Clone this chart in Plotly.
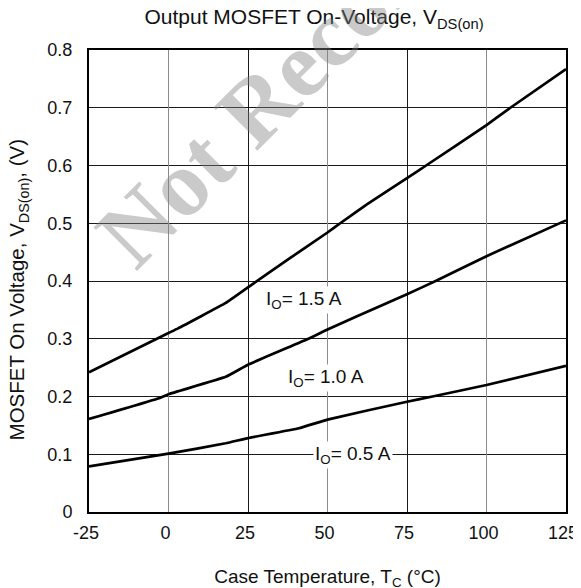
import plotly.graph_objects as go

# case temperature (°C) and V_DS(on) (V)
temp_15a = [-25, 0, 3, 18, 25, 37.5, 50, 54, 62.5, 75, 81, 100, 107.5, 125]
vds_15a = [0.242, 0.310, 0.318, 0.362, 0.389, 0.437, 0.484, 0.500, 0.533, 0.578, 0.600, 0.670, 0.700, 0.767]

temp_10a = [-25, -3, 0, 18, 25, 44, 50, 67.5, 75, 84, 100, 125]
vds_10a = [0.161, 0.197, 0.204, 0.234, 0.255, 0.300, 0.316, 0.359, 0.377, 0.400, 0.443, 0.505]

temp_05a = [-25, 0, 18, 25, 41, 50, 75, 83, 100, 125]
vds_05a = [0.079, 0.101, 0.119, 0.128, 0.145, 0.160, 0.191, 0.200, 0.220, 0.253]

curve_labels = ["I<sub>O</sub>= 1.5 A", "I<sub>O</sub>= 1.0 A", "I<sub>O</sub>= 0.5 A"]
label_x = [42.6, 49.4, 57.9]
label_y = [0.367, 0.232, 0.099]

x_ticks = [-25, 0, 25, 50, 75, 100, 125]
x_grey_ticks = [0, 50, 100]
y_ticks = [0, 0.1, 0.2, 0.3, 0.4, 0.5, 0.6, 0.7, 0.8]
y_ticktext = ["0", "0.1", "0.2", "0.3", "0.4", "0.5", "0.6", "0.7", "0.8"]

FONT = "Liberation Sans, Arial, sans-serif"

fig = go.Figure()
for xs, ys in [(temp_15a, vds_15a), (temp_10a, vds_10a), (temp_05a, vds_05a)]:
    fig.add_trace(go.Scatter(
        x=xs, y=ys, mode="lines", xaxis="x2", yaxis="y",
        line=dict(color="black", width=2.7, shape="spline", smoothing=0.3),
        showlegend=False, hoverinfo="skip",
    ))

for text, lx, ly in zip(curve_labels, label_x, label_y):
    fig.add_annotation(
        x=lx, y=ly, xref="x", yref="y", text=text, showarrow=False,
        font=dict(family=FONT, size=19, color="#111"),
        bgcolor="white", borderpad=1,
    )

# y axis title as an annotation so it can sit close to the left edge
fig.add_annotation(
    x=-0.148, y=0.4805, xref="paper", yref="paper",
    xanchor="center", yanchor="middle", textangle=-90, showarrow=False,
    text="MOSFET On Voltage, V<sub>DS(on)</sub>, (V)",
    font=dict(family=FONT, size=20.5, color="#111"),
)

# faded watermark
fig.add_annotation(
    x=0.6176, y=1.1537, xref="paper", yref="paper",
    xanchor="center", yanchor="middle",
    text="<b>Not Recommended</b>", showarrow=False, textangle=-45,
    font=dict(family="Liberation Serif, Times New Roman, serif", size=94,
              color="rgba(128,128,128,0.42)"),
)

# the page body adds an 8px offset, so margins are shifted up/left by 8px
fig.update_layout(
    width=581, height=588,
    margin=dict(l=81, r=23, t=42, b=84, autoexpand=False),
    paper_bgcolor="white", plot_bgcolor="white",
    font=dict(family=FONT, size=18, color="#111"),
    title=dict(
        text="Output MOSFET On-Voltage, V<sub>DS(on)</sub>",
        x=306 / 581, xref="container", xanchor="center",
        y=1 - 9 / 588, yref="container", yanchor="middle",
        font=dict(family=FONT, size=21, color="#111"),
    ),
    xaxis=dict(
        range=[-25, 125], tickvals=x_ticks, ticktext=[str(v) for v in x_ticks],
        showgrid=True, gridcolor="#1a1a1a", gridwidth=1.3, zeroline=False,
        showline=True, linecolor="black", linewidth=2, mirror=True,
        ticks="", ticklabelstandoff=3, ticklabelshift=-3, automargin=False,
        title=dict(text="Case Temperature, T<sub>C</sub> (°C)", standoff=28,
                   font=dict(size=19)),
        fixedrange=True,
    ),
    xaxis2=dict(
        range=[-25, 125], overlaying="x", side="bottom",
        tickvals=x_grey_ticks, showticklabels=False, ticks="",
        showgrid=True, gridcolor="#8c8c8c", gridwidth=1.3, zeroline=False,
        showline=False, fixedrange=True, automargin=False,
    ),
    yaxis=dict(
        range=[0, 0.8], tickvals=y_ticks, ticktext=y_ticktext,
        showgrid=True, gridcolor="#1a1a1a", gridwidth=1.3, zeroline=False,
        showline=True, linecolor="black", linewidth=2, mirror=True,
        ticks="", ticklabelstandoff=11, automargin=False,
        fixedrange=True,
    ),
)

fig.write_html("out.html")
